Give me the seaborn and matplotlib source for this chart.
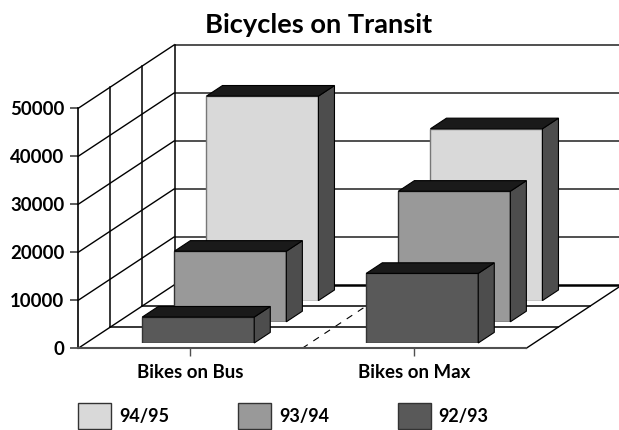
import matplotlib
matplotlib.use("Agg")
import matplotlib.pyplot as plt
import seaborn as sns
from matplotlib.patches import Patch, Polygon

categories = ["Bikes on Bus", "Bikes on Max"]
series_names = ["94/95", "93/94", "92/93"]
values_9495 = [42600, 35800]
values_9394 = [14700, 27200]
values_9293 = [5400, 14500]
y_ticks = [0, 10000, 20000, 30000, 40000, 50000]

colors = {"94/95": "#d9d9d9", "93/94": "#999999", "92/93": "#595959"}
SIDE, TOP = "#4d4d4d", "#1a1a1a"
GRID = "#505050"

W, H = 619, 430
X0, Y0, PW, PH = 78.2, 348.3, 448.0, 240.0
DX, DY = 32.1, 21.2
YMAX = 50000

sns.set_theme(style="white")
plt.rcParams["font.family"] = ["Lato", "DejaVu Sans"]
plt.rcParams["font.weight"] = "bold"
plt.rcParams["text.color"] = "black"
plt.rcParams["xtick.labelcolor"] = "black"
plt.rcParams["ytick.labelcolor"] = "black"

fig = plt.figure(figsize=(W / 100, H / 100), dpi=100)
fig.patch.set_facecolor("white")


def rect(dx=0.0, dy=0.0):
    return [(X0 + dx) / W, 1 - (Y0 - dy) / H, PW / W, PH / H]


ax = fig.add_axes(rect())
ax.patch.set_alpha(0)
ax.set_xlim(-0.5, 1.5)
ax.set_ylim(0, YMAX)
ux = (len(categories)) / PW      # data units per pixel, x
uy = YMAX / PH                   # data units per pixel, y


def proj(c, v, d):
    return c + d * DX * ux, v + d * DY * uy


def seg(p, q, **kw):
    ax.plot([p[0], q[0]], [p[1], q[1]], clip_on=False, solid_capstyle="projecting", **kw)


xl, xr = -0.5, 1.5
for v in y_ticks:
    # left wall rising lines and back wall grid lines
    seg(proj(xl, v, 0), proj(xl, v, 3), color="black", lw=1.0)
    seg(proj(xl, v, 3), proj(xr, v, 3), color=GRID if v else "black", lw=1.4 if v else 1.8)
for d in (1, 2, 3):
    seg(proj(xl, 0, d), proj(xl, YMAX, d), color="black", lw=1.1)
for d in (1, 2):
    seg(proj(xl, 0, d), proj(xr, 0, d), color="black", lw=1.1)
seg(proj(xr, 0, 0), proj(xr, 0, 3), color="black", lw=1.0)
ax.plot(*zip(proj(0.5, 0, 0), proj(0.5, 0, 3)), color="black", lw=0.8,
        ls=(0, (6, 6)), clip_on=False)

ax.set_xticks([0, 1], categories)
ax.set_yticks(y_ticks, [str(v) for v in y_ticks])
ax.tick_params(axis="y", length=5.6, width=1.3, color=GRID, pad=4.5, labelsize=13.4,
               left=True, labelcolor="black")
ax.tick_params(axis="x", length=6, width=1, color=GRID, pad=5.5, labelsize=13.4, bottom=True,
               labelcolor="black")
sns.despine(ax=ax, top=True, right=True)
ax.spines["left"].set_color("black")
ax.spines["left"].set_linewidth(1.2)
ax.spines["bottom"].set_color(GRID)
ax.spines["bottom"].set_linewidth(1.5)

series = [("94/95", values_9495, 2), ("93/94", values_9394, 1), ("92/93", values_9293, 0)]
for z, (name, vals, slot) in enumerate(series, start=2):
    off = slot + 0.25
    a = fig.add_axes(rect(off * DX, off * DY), zorder=z)
    a.patch.set_alpha(0)
    sns.barplot(x=categories, y=vals, ax=a, color=colors[name], saturation=1, width=0.5,
                edgecolor="#333333" if name != "94/95" else "#777777", linewidth=1.0)
    a.set_xlim(-0.5, 1.5)
    a.set_ylim(0, YMAX)
    a.axis("off")
    bx, by = 0.5 * DX * ux, 0.5 * DY * uy
    for p in a.patches:
        x, w, h = p.get_x(), p.get_width(), p.get_height()
        r = x + w
        a.add_patch(Polygon([(r, 0), (r + bx, by), (r + bx, h + by), (r, h)], closed=True,
                            facecolor=SIDE, edgecolor="black", lw=0.8, clip_on=False))
        a.add_patch(Polygon([(x, h), (x + bx, h + by), (r + bx, h + by), (r, h)], closed=True,
                            facecolor=TOP, edgecolor="black", lw=0.8, clip_on=False))

handles = [Patch(facecolor=colors[n], edgecolor="#333333", linewidth=1.0) for n in series_names]
fig.legend(handles, series_names, loc="lower left", bbox_to_anchor=(78 / W, 1 - 429 / H),
           ncols=3, frameon=False, fontsize=13, handlelength=1.83, handleheight=1.83,
           handletextpad=0.45, columnspacing=3.8, borderpad=0, borderaxespad=0,
           labelcolor="black")

fig.text(318.5 / W, 1 - 25 / H, "Bicycles on Transit", ha="center", va="center",
         fontsize=19.6, fontweight="bold", color="black")

fig.savefig("out.png", dpi=100)
